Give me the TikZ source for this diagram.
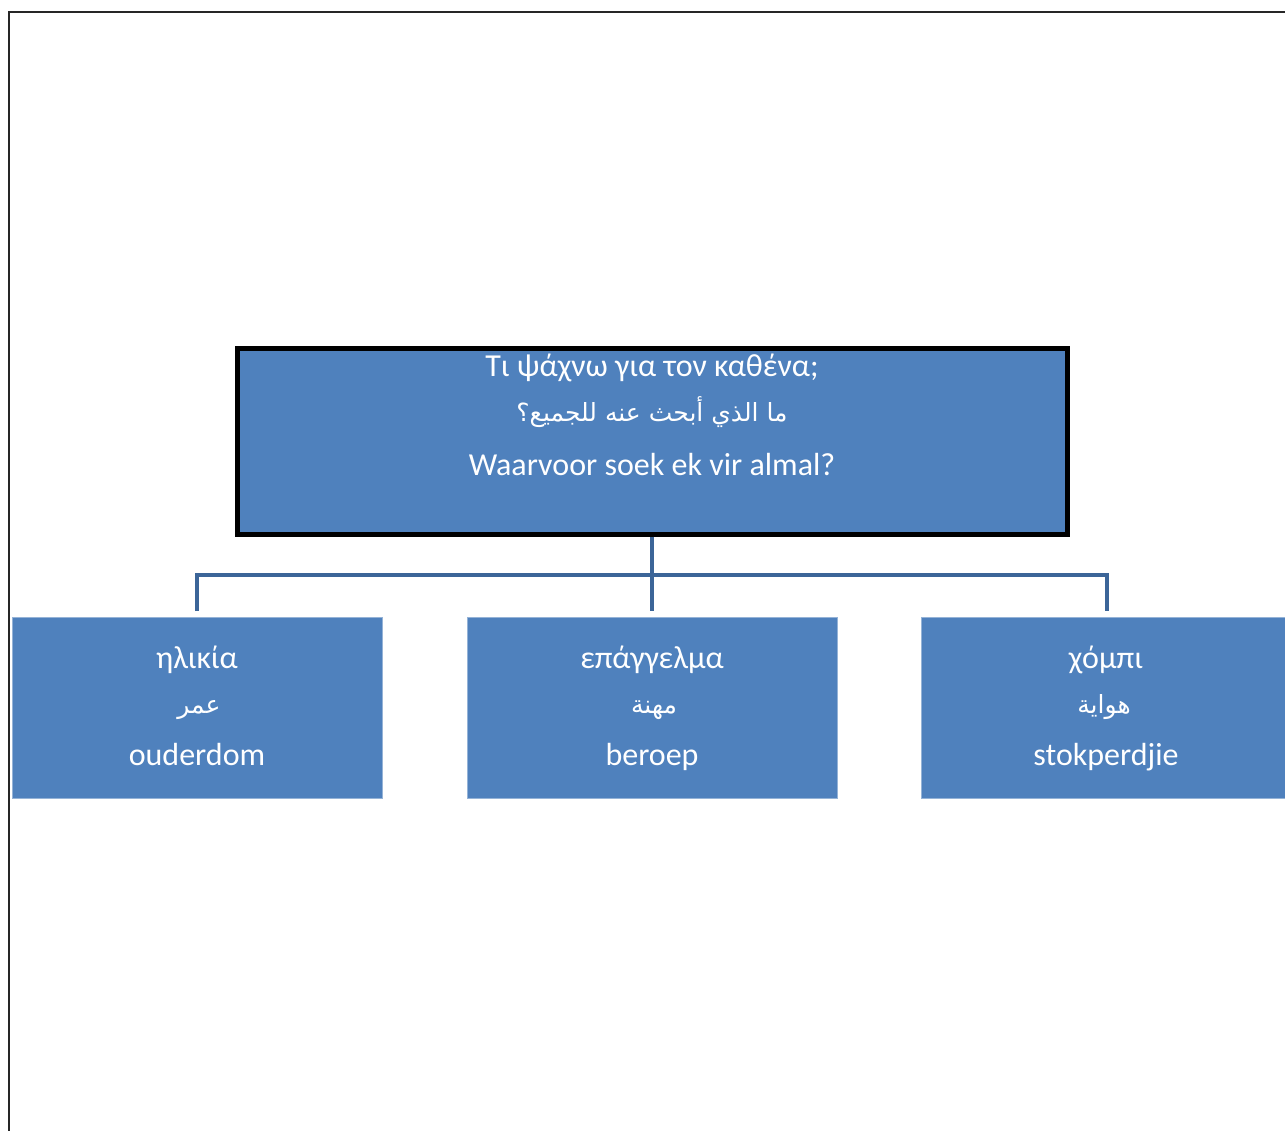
\documentclass[tikz,border=0pt]{standalone}
\usepackage{fontspec}
\setmainfont{Carlito}
\newfontfamily\arabicfont[Script=Arabic]{DejaVu Sans}
\TeXXeTstate=1
\definecolor{boxblue}{HTML}{4F81BD}
\definecolor{connblue}{HTML}{3C6598}
\begin{document}
\begin{tikzpicture}[x=1pt,y=-1pt,
  topbox/.style={draw=black, line width=5pt, fill=boxblue, minimum width=830pt, minimum height=185pt, inner sep=0pt},
  leafbox/.style={fill=boxblue, draw=boxblue!60!white, line width=0.8pt, minimum width=370pt, minimum height=181pt, inner sep=0pt},
  lbl/.style={text=white, font=\fontsize{32}{38}\selectfont, anchor=base, inner sep=0pt},
  albl/.style={text=white, font=\arabicfont\fontsize{25}{30}\selectfont, anchor=base, inner sep=0pt},
  conn/.style={draw=connblue, line width=4pt}]
\useasboundingbox (0,0) rectangle (1285,1131);
\fill[white] (0,0) rectangle (1285,1131);
% outer frame
\draw[line width=2.2pt, black!85] (9,1140) -- (9,12) -- (1295,12);
% boxes
\node[topbox] (top) at (652,441.5) {};
\node[leafbox] (left) at (197,707.5) {};
\node[leafbox] (mid) at (652,707.5) {};
\node[leafbox] (right) at (1106,707.5) {};
% connectors
\coordinate (jL) at (197,575);
\coordinate (jM) at (652,575);
\coordinate (jR) at (1107,575);
\coordinate (eL) at (197,611);
\coordinate (eM) at (652,611);
\coordinate (eR) at (1107,611);
\draw[conn] (top.south) -- (eM);
\draw[conn] (eL) -- (jL) -- (jR) -- (eR);
% top texts
\node[lbl] (t1) at (652,377) {Τι ψάχνω για τον καθένα;};
\node[albl] (t2) at (652,421) {\beginR ما الذي أبحث عنه للجميع؟\endR};
\node[lbl] (t3) at (652,475) {Waarvoor soek ek vir almal?};
% left texts
\node[lbl] (l1) at (197,668) {ηλικία};
\node[albl] (l2) at (199,713) {\beginR عمر\endR};
\node[lbl] (l3) at (197,765) {ouderdom};
% middle texts
\node[lbl] (m1) at (652,668) {επάγγελμα};
\node[albl] (m2) at (654,713) {\beginR مهنة\endR};
\node[lbl] (m3) at (652,765) {beroep};
% right texts
\node[lbl] (r1) at (1106,668) {χόμπι};
\node[albl] (r2) at (1104,713) {\beginR هواية\endR};
\node[lbl] (r3) at (1106,765) {stokperdjie};
\end{tikzpicture}
\end{document}
